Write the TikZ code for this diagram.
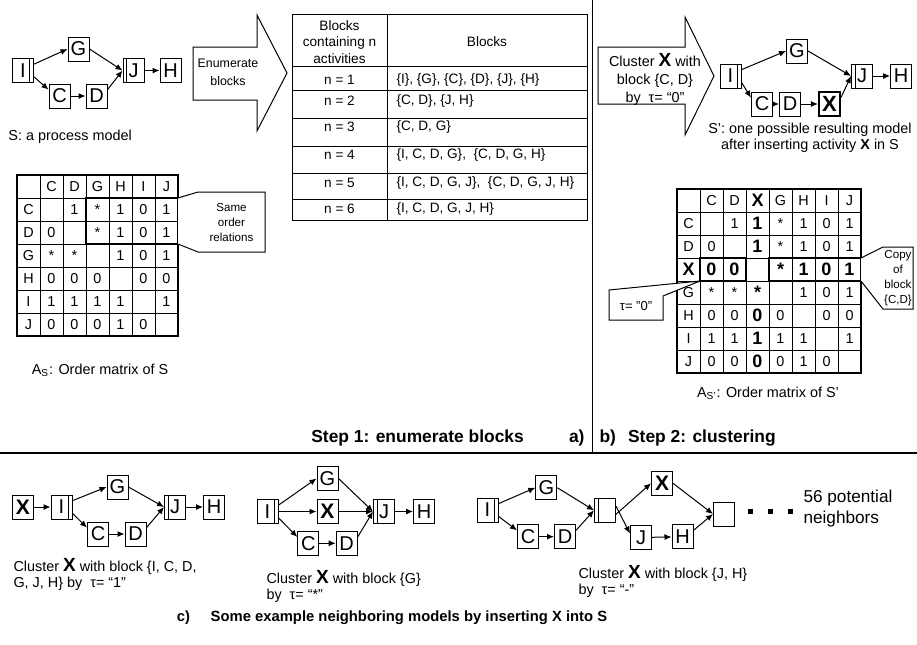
\documentclass[tikz,border=0pt]{standalone}
\usepackage{fontspec}
\setmainfont{Liberation Sans}
\usetikzlibrary{arrows.meta,positioning,calc}
\newcommand{\bx}{{\fontsize{9.5}{9.5}\selectfont\bfseries X}}
\newcommand{\bigb}[1]{{\fontsize{9}{9}\selectfont\bfseries #1}}
\tikzset{
  act/.style={draw,minimum width=10.5pt,minimum height=12pt,inner sep=0pt,
              font=\fontsize{10}{10}\selectfont},
  andsplit/.style={act,path picture={\draw ([xshift=-1.8pt]path picture bounding box.north east)
              -- ([xshift=-1.8pt]path picture bounding box.south east);}},
  andjoin/.style={act,path picture={\draw ([xshift=1.8pt]path picture bounding box.north west)
              -- ([xshift=1.8pt]path picture bounding box.south west);}},
  newact/.style={act,line width=1.1pt,font=\fontsize{11}{11}\selectfont\bfseries},
  flow/.style={-{Latex[length=3.5pt,width=3pt]},line width=0.5pt},
  txt/.style={font=\fontsize{7.2}{8.2}\selectfont,align=left,inner sep=0pt},
  tabtxt/.style={font=\fontsize{6.8}{8.2}\selectfont,inner sep=0pt},
  cell/.style={font=\fontsize{7.2}{7.2}\selectfont,inner sep=0pt},
  calltxt/.style={font=\fontsize{5.8}{7.5}\selectfont,align=center,inner sep=0pt},
  steplbl/.style={font=\fontsize{8.7}{8.7}\selectfont\bfseries,inner sep=0pt},
  bigarrow/.style={draw,line width=0.5pt,fill=white,line join=miter}
}
\begin{document}
\begin{tikzpicture}[x=0.5pt,y=-0.5pt,line width=0.5pt]
  \useasboundingbox (0,0) rectangle (917,644);

  % frame lines
  \draw (592,0) -- (592,453);
  \draw[line width=0.9pt] (0,453) -- (917,453);

  % ---- a) process model S
  \node[andsplit] (i1) at (23,70.5) {I};
  \node[act] (g1) at (78.5,49) {G};
  \node[act] (c1) at (59.5,96) {C};
  \node[act] (d1) at (96.5,96) {D};
  \node[andjoin] (j1) at (133.5,70.5) {J};
  \node[act] (h1) at (170.5,70.5) {H};
  \draw[flow] (i1.30) -- (g1.west);
  \draw[flow] (i1.-30) -- (c1.150);
  \draw[flow] (c1) -- (d1);
  \draw[flow] (g1.east) -- (j1.west);
  \draw[flow] (d1.30) -- (j1.west);
  \draw[flow] (j1) -- (h1);
  \node[txt,anchor=west] (capS) at (8,137) {S: a process model};

  % enumerate arrow
  \draw[bigarrow] (193,47) -- (257,47) -- (257,15) -- (287,73) -- (257,131) -- (257,100) -- (193,100) -- cycle;
  \node[font=\fontsize{6.2}{8.8}\selectfont,align=center] (enum) at (228,72) {Enumerate\\blocks};

  % block table
  \draw (292,14) rectangle (587,220);
  \draw (387,14) -- (387,220);
  \foreach \yy in {66,90,118,146,173,199} \draw (292,\yy) -- (587,\yy);
  \node[tabtxt,align=center] (thead) at (339.5,42) {Blocks\\containing n\\activities};
  \node[tabtxt] (tblk) at (487,42) {Blocks};
  \foreach \n/\b/\yy in {1/{\{I\}, \{G\}, \{C\}, \{D\}, \{J\}, \{H\}}/80,
                         2/{\{C, D\}, \{J, H\}}/101,
                         3/{\{C, D, G\}}/127,
                         4/{\{I, C, D, G\},\ \ \{C, D, G, H\}}/155,
                         5/{\{I, C, D, G, J\},\ \ \{C, D, G, J, H\}}/183,
                         6/{\{I, C, D, G, J, H\}}/209}{
    \node[tabtxt] (n\n) at (339.5,\yy) {n = \n};
    \node[tabtxt,anchor=west] (b\n) at (396,\yy) {\b};
  }

  % order matrix of S
  \foreach \k in {0,...,7}{
    \draw (17+23*\k,175) -- (17+23*\k,336);
    \draw (17,175+23*\k) -- (178,175+23*\k);
  }
  \draw[line width=1pt] (17,175) rectangle (178,336);
  \foreach \row [count=\j from 0] in {{{},C,D,G,H,I,J},{C,{},1,*,1,0,1},{D,0,{},*,1,0,1},
      {G,*,*,{},1,0,1},{H,0,0,0,{},0,0},{I,1,1,1,1,{},1},{J,0,0,0,1,0,{}}}{
    \foreach \v [count=\i from 0] in \row
      \node[cell] (m-\j-\i) at (28.5+23*\i,186.5+23*\j) {\v};
  }
  \draw[line width=1.2pt] (86,198) rectangle (178,244);
  \draw[fill=white] (178,198) -- (198,192) -- (265,192) -- (265,252) -- (198,252) -- (178,244);
  \node[calltxt] (same) at (231.5,222) {Same\\order\\relations};
  \node[txt,anchor=center] (capA) at (100,370) {A\textsubscript{S}: Order matrix of S};

  % ---- b) clustering arrow
  \draw[bigarrow] (598,47) -- (685,47) -- (685,17) -- (714,76) -- (685,135) -- (685,104) -- (598,104) -- cycle;
  \node[font=\fontsize{7.2}{9}\selectfont,align=center] (clus) at (655,79) {Cluster \bx{} with\\block \{C, D\}\\by\ \ τ= “0”};

  % process model S'
  \node[andsplit] (i2) at (730.5,76) {I};
  \node[act] (g2) at (797,51) {G};
  \node[act] (c2) at (762,104) {C};
  \node[act] (d2) at (790,104) {D};
  \node[newact] (x2) at (829.5,104) {X};
  \node[andjoin] (j2) at (862,76) {J};
  \node[act] (h2) at (901,76) {H};
  \draw[flow] (i2.30) -- (g2.west);
  \draw[flow] (i2.-30) -- (c2.150);
  \draw[flow] (c2) -- (d2);
  \draw[flow] (d2) -- (x2);
  \draw[flow] (g2.east) -- (j2.west);
  \draw[flow] (x2.30) -- (j2.west);
  \draw[flow] (j2) -- (h2);
  \node[txt,align=center] (capS2) at (810,138) {S’: one possible resulting model\\after inserting activity \textbf{X} in S};

  % order matrix of S'
  \foreach \k in {0,...,8}{
    \draw (677+23*\k,189) -- (677+23*\k,373);
    \draw (677,189+23*\k) -- (861,189+23*\k);
  }
  \draw[line width=1pt] (677,189) rectangle (861,373);
  \foreach \row [count=\j from 0] in {{{},C,D,\bigb{X},G,H,I,J},{C,{},1,\bigb{1},*,1,0,1},
      {D,0,{},\bigb{1},*,1,0,1},{\bigb{X},\bigb{0},\bigb{0},{},\bigb{*},\bigb{1},\bigb{0},\bigb{1}},
      {G,*,*,\bigb{*},{},1,0,1},{H,0,0,\bigb{0},0,{},0,0},{I,1,1,\bigb{1},1,1,{},1},
      {J,0,0,\bigb{0},0,1,0,{}}}{
    \foreach \v [count=\i from 0] in \row
      \node[cell] (n-\j-\i) at (688.5+23*\i,200.5+23*\j) {\v};
  }
  \draw[line width=1.2pt] (700,258) rectangle (746,281);
  \draw[line width=1.2pt] (769,258) rectangle (861,281);
  \draw[fill=white] (861,258) -- (883,247) -- (913,247) -- (913,309) -- (883,309) -- (861,281);
  \node[calltxt] (copy) at (898,278) {Copy\\of\\block\\\{C,D\}};
  \draw[fill=white] (700,281) -- (609,290) -- (609,320) -- (663,320) -- (663,296) -- cycle;
  \node[calltxt,font=\fontsize{6.5}{7}\selectfont] (tau0) at (636,306) {τ= "0"};
  \node[txt,anchor=center] (capA2) at (768,393) {A\textsubscript{S’}: Order matrix of S’};

  \node[steplbl,anchor=east] (stepa) at (585,438) {Step 1: enumerate blocks\hspace{2.6em}a)};
  \node[steplbl,anchor=west] (stepb) at (599,438) {b)\hspace{0.7em}Step 2: clustering};

  % ---- c) neighbours: X before the model
  \node[act,font=\fontsize{10.5}{10.5}\selectfont\bfseries] (x3) at (23,507) {X};
  \node[andsplit] (i3) at (61.5,507) {I};
  \node[act] (g3) at (117.5,487) {G};
  \node[act] (c3) at (98,534) {C};
  \node[act] (d3) at (135.5,534) {D};
  \node[andjoin] (j3) at (175,507) {J};
  \node[act] (h3) at (214,507) {H};
  \draw[flow] (x3) -- (i3);
  \draw[flow] (i3.30) -- (g3.west);
  \draw[flow] (i3.-30) -- (c3.150);
  \draw[flow] (c3) -- (d3);
  \draw[flow] (g3.east) -- (j3.west);
  \draw[flow] (d3.30) -- (j3.west);
  \draw[flow] (j3) -- (h3);
  \node[txt,anchor=north west] (capc1) at (13,558) {Cluster \bx{} with block \{I, C, D,\\G, J, H\} by\ \ τ= “1”};

  % X parallel to G
  \node[andsplit] (i4) at (267.5,511.5) {I};
  \node[act] (g4) at (327.5,478.5) {G};
  \node[act,font=\fontsize{10.5}{10.5}\selectfont\bfseries] (x4) at (327.5,511.5) {X};
  \node[act] (c4) at (308.3,543.3) {C};
  \node[act] (d4) at (346.7,543.3) {D};
  \node[andjoin] (j4) at (384,511.5) {J};
  \node[act] (h4) at (424,511.5) {H};
  \draw[flow] (i4.30) -- (g4.west);
  \draw[flow] (i4) -- (x4);
  \draw[flow] (i4.-30) -- (c4.150);
  \draw[flow] (c4) -- (d4);
  \draw[flow] (g4.east) -- (j4.west);
  \draw[flow] (x4) -- (j4);
  \draw[flow] (d4.30) -- (j4.west);
  \draw[flow] (j4) -- (h4);
  \node[txt,anchor=north west] (capc2) at (266,570) {Cluster \bx{} with block \{G\}\\by\ \ τ= “*”};

  % X parallel to {J, H}
  \node[andsplit] (i5) at (487.5,510) {I};
  \node[act] (g5) at (546.3,487.7) {G};
  \node[act] (c5) at (528,536.7) {C};
  \node[act] (d5) at (565,536.7) {D};
  \node[andjoin] (s5) at (605,510.3) {};
  \node[act,font=\fontsize{10.5}{10.5}\selectfont\bfseries] (x5) at (662,483.3) {X};
  \node[act] (j5) at (641,537.5) {J};
  \node[act] (h5) at (682.5,536.7) {H};
  \node[act] (e5) at (724,514) {};
  \draw[flow] (i5.30) -- (g5.west);
  \draw[flow] (i5.-30) -- (c5.150);
  \draw[flow] (c5) -- (d5);
  \draw[flow] (g5.east) -- (s5.west);
  \draw[flow] (d5.30) -- (s5.west);
  \draw[flow] ([yshift=-2pt]s5.east) -- (x5.west);
  \draw[flow] ([yshift=2pt]s5.east) -- (j5.160);
  \draw[flow] (j5) -- (h5);
  \draw[flow] (x5.east) -- (e5.west);
  \draw[flow] (h5.30) -- (e5.west);
  \foreach \dx in {748,768,788} \fill (\dx,509) rectangle ++(5,5);
  \node[font=\fontsize{8.6}{10.5}\selectfont,align=left,anchor=west,inner sep=0pt] (more) at (803,509) {56 potential\\neighbors};
  \node[txt,anchor=north west] (capc3) at (578,565) {Cluster \bx{} with block \{J, H\}\\by\ \ τ= “-”};

  \node[steplbl,font=\fontsize{7.4}{7.4}\selectfont\bfseries] (stepc) at (392,618) {c)\hspace{1.4em}Some example neighboring models by inserting X into S};
\end{tikzpicture}
\end{document}
